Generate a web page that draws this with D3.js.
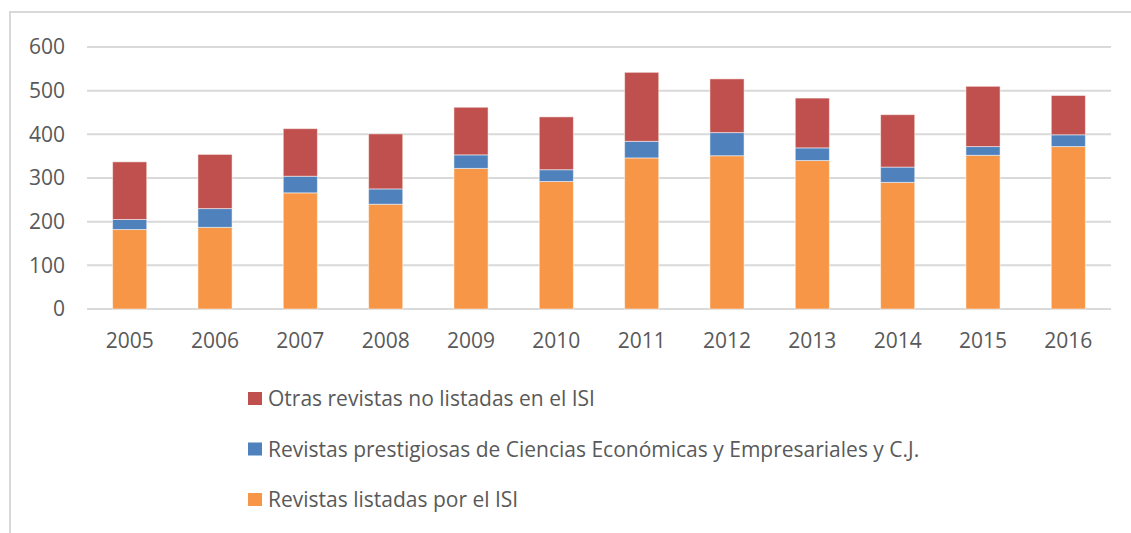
<!DOCTYPE html>
<html>
<head>
<meta charset="utf-8">
<script src="https://cdn.jsdelivr.net/npm/d3@7"></script>
<style>
  html, body { margin: 0; padding: 0; background: #fff; }
  body { width: 1131px; height: 533px; overflow: hidden; }
  text { font-family: "Open Sans", sans-serif; fill: #595959; }
</style>
</head>
<body>
<div id="root"><svg></svg></div>
<script>
const years = ['2005','2006','2007','2008','2009','2010','2011','2012','2013','2014','2015','2016'];
const isi     = [182, 187, 266, 240, 322, 292, 346, 351, 340, 290, 352, 372];
const prestig = [ 23,  43,  38,  35,  31,  27,  38,  53,  29,  35,  20,  27];
const otras   = [132, 124, 109, 126, 109, 121, 158, 123, 114, 120, 138,  90];
const yTicks  = [0, 100, 200, 300, 400, 500, 600];

const seriesNames = [
    'Revistas listadas por el ISI',
    'Revistas prestigiosas de Ciencias Económicas y Empresariales y C.J.',
    'Otras revistas no listadas en el ISI'
];
const colors = ['#F79646', '#4F81BD', '#C0504D'];

const width = 1131, height = 533;
const plotL = 87, plotR = 1111, plotT = 47, plotB = 309;

const svg = d3.select('#root').select('svg')
    .attr('width', width)
    .attr('height', height);

// outer frame (only top and left edges are visible)
svg.append('path')
    .attr('d', `M10,${height} V12 H${width}`)
    .attr('fill', 'none')
    .attr('stroke', '#D9D9D9')
    .attr('stroke-width', 2);

const x = d3.scaleBand().domain(years).range([plotL, plotR]).paddingInner(0.6).paddingOuter(0.3);
const y = d3.scaleLinear().domain([0, 600]).range([plotB, plotT]);

// gridlines
svg.append('g')
    .selectAll('line')
    .data(yTicks)
    .enter()
    .append('line')
    .attr('x1', plotL)
    .attr('x2', plotR)
    .attr('y1', d => y(d))
    .attr('y2', d => y(d))
    .attr('stroke', '#D9D9D9')
    .attr('stroke-width', 2);

// y labels
svg.append('g')
    .selectAll('text')
    .data(yTicks)
    .enter()
    .append('text')
    .attr('x', 65)
    .attr('y', d => y(d))
    .attr('dy', '0.35em')
    .attr('text-anchor', 'end')
    .attr('font-size', '21px')
    .text(d => d);

// x labels
svg.append('g')
    .selectAll('text')
    .data(years)
    .enter()
    .append('text')
    .attr('x', d => x(d) + x.bandwidth() / 2)
    .attr('y', 341)
    .attr('dy', '0.35em')
    .attr('text-anchor', 'middle')
    .attr('font-size', '21px')
    .text(d => d);

// stacked bars
const rows = years.map((yr, i) => ({ year: yr, a: isi[i], b: prestig[i], c: otras[i] }));
const stack = d3.stack().keys(['a', 'b', 'c'])(rows);

svg.append('g')
    .selectAll('g')
    .data(stack)
    .enter()
    .append('g')
    .attr('fill', (d, i) => colors[i])
    .selectAll('rect')
    .data(d => d)
    .enter()
    .append('rect')
    .attr('x', d => x(d.data.year))
    .attr('width', x.bandwidth())
    .attr('y', d => y(d[1]))
    .attr('height', d => y(d[0]) - y(d[1]))
    .attr('stroke', 'rgba(255,255,255,0.5)')
    .attr('stroke-width', 1);

// legend, listed top series first
const legendRows = [2, 1, 0];
const legend = svg.append('g')
    .selectAll('g')
    .data(legendRows)
    .enter()
    .append('g')
    .attr('transform', (d, i) => `translate(248, ${399 + i * 50.5})`);

legend.append('rect')
    .attr('x', 0)
    .attr('y', -7)
    .attr('width', 14)
    .attr('height', 13)
    .attr('fill', d => colors[d]);

legend.append('text')
    .attr('x', 20)
    .attr('y', 0)
    .attr('dy', '0.35em')
    .attr('font-size', '21px')
    .text(d => seriesNames[d]);
</script>
</body>
</html>
